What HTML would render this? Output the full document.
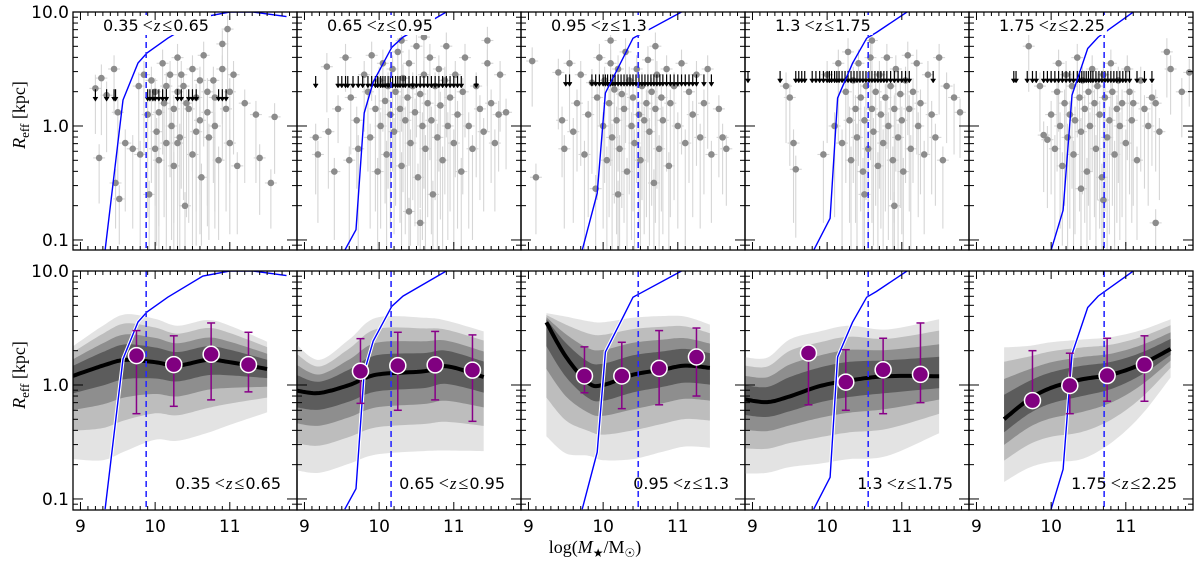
<!DOCTYPE html>
<html><head><meta charset="utf-8"><style>
html,body{margin:0;padding:0;background:#fff;}
svg{display:block;font-family:"DejaVu Sans","Liberation Sans",sans-serif;}
</style></head><body>
<svg id="chart" width="1200" height="561" viewBox="0 0 1200 561" xmlns="http://www.w3.org/2000/svg">
<defs id="defs"></defs>
<g id="layer"></g>
</svg>
<script>
// ---------- data ----------
const zLabels = ["0.35", "0.65", "0.65", "0.95", "0.95", "1.3", "1.3", "1.75", "1.75", "2.25"];
const dashedMass = [9.88, 10.16, 10.47, 10.55, 10.71];
const compX = [
 [9.33,9.57,9.77,9.89,10.17,10.64,11.0,11.31,11.76],
 [9.54,9.69,9.80,9.92,10.17,10.32,10.9],
 [9.72,9.92,10.03,10.27,10.4,11.05],
 [9.82,10.04,10.14,10.34,10.53,10.66,11.07],
 [10.0,10.16,10.28,10.49,10.63,11.1]];
const compY = [
 [-1.09,0.228,0.553,0.64,0.77,0.956,1.0,1.0,0.96],
 [-1.09,-0.91,0.114,0.386,0.69,0.78,1.0],
 [-1.09,-0.59,0.29,0.6,0.77,1.0],
 [-1.09,-0.81,0.245,0.55,0.77,0.82,1.0],
 [-1.09,-0.74,0.27,0.68,0.78,1.0]];
const medX = [
 [8.9,9.3,9.6,10.0,10.3,10.7,11.0,11.5],
 [8.9,9.2,9.6,9.96,10.6,10.9,11.4],
 [9.24,9.5,9.8,10.0,10.4,10.8,11.1,11.43],
 [8.9,9.2,9.5,9.9,10.3,10.8,11.5],
 [9.37,9.7,10.0,10.4,10.8,11.2,11.6]];
const medY = [
 [0.08,0.17,0.22,0.2,0.17,0.22,0.2,0.14],
 [-0.05,-0.07,0.0,0.09,0.12,0.165,0.07],
 [0.55,0.25,0.02,0.0,0.09,0.135,0.17,0.15],
 [-0.127,-0.15,-0.1,-0.01,0.04,0.077,0.077],
 [-0.3,-0.127,-0.025,0.048,0.09,0.18,0.316]];
const bandUp = [
 [0.26,0.35,0.4,0.38,0.35,0.35,0.32,0.24],
 [0.40,0.29,0.4,0.5,0.47,0.4,0.4],
 [0.08,0.35,0.54,0.55,0.5,0.47,0.43,0.38],
 [0.37,0.39,0.5,0.48,0.48,0.41,0.5],
 [0.63,0.47,0.4,0.35,0.33,0.3,0.26]];
const bandDn = [
 [0.73,0.83,0.8,0.68,0.66,0.64,0.55,0.38],
 [0.7,0.7,0.69,0.7,0.7,0.74,0.65],
 [1.0,0.85,0.64,0.66,0.74,0.72,0.71,0.7],
 [0.65,0.62,0.62,0.68,0.69,0.7,0.5],
 [0.55,0.6,0.65,0.7,0.6,0.45,0.25]];
const binMass = [9.75, 10.25, 10.75, 11.25];
const binR = [[1.81,1.51,1.86,1.51],[1.32,1.48,1.5,1.35],[1.2,1.2,1.4,1.76],[1.91,1.06,1.36,1.24],[0.73,0.99,1.21,1.51]];
const binLo = [[0.56,0.65,0.74,0.87],[0.69,0.6,0.74,0.48],[0.855,0.62,0.67,0.8],[0.67,0.6,0.56,0.7],[0.73,0.56,0.72,0.72]];
const binHi = [[3.0,2.7,3.5,2.9],[2.55,2.9,2.95,2.75],[2.16,2.37,3.0,3.16],[1.91,2.04,2.57,3.5],[2.0,1.9,2.57,2.7]];
const gal1 = [[9.2,.33,.4],[9.25,-.28,.4],[9.28,.42,.5],[9.35,.27,.5],[9.45,.5,.4],[9.47,-.5,.4],[9.5,.12,.6],[9.52,-.64,.4],[9.6,-.15,.6],[9.7,-.2,.7],[9.78,.35,.6],[9.8,-.25,.8],[9.85,.45,.7],[9.9,.1,.9],[9.92,-.6,.5],[9.95,.4,.9],[10.0,.3,1],[10.02,-.05,1],[10.05,-.3,.8],[10.1,.55,.8],[10.12,.2,1],[10.15,-.15,1],[10.2,.45,.9],[10.22,0,1],[10.25,-.35,.8],[10.3,.6,.8],[10.3,.3,1],[10.33,-.1,1],[10.38,.35,1],[10.4,-.7,.4],[10.45,.15,1],[10.5,.5,.9],[10.5,-.25,.8],[10.55,.25,1],[10.6,.05,1],[10.62,-.45,.6],[10.65,.62,.8],[10.7,.3,1],[10.72,-.1,.9],[10.78,.4,.9],[10.8,0,.9],[10.85,-.3,.7],[10.9,.5,.8],[10.95,.15,.9],[11.0,-.15,.8],[11.05,.45,.7],[11.1,-.35,.6],[11.2,.2,.7],[11.35,.1,.6],[11.4,-.28,.5],[11.55,-.5,.4],[11.6,.08,.5],[10.97,.85,.6],[10.9,.72,.7],[10.35,.45,1],[10.15,.35,1],[10.6,.4,1],[10.42,.2,1],[10.25,.15,1],[10.05,.12,1],[10.7,.12,1],[10.55,-.05,1],[10.3,-.15,1],[10.8,.25,1],[10.0,-.2,.9],[11.0,.3,.8]];
const gal2 = [[9.15,-.1,.5],[9.18,-.25,.6],[9.3,.52,.4],[9.32,-.05,.5],[9.4,-.4,.6],[9.45,.15,.3],[9.55,.6,.3],[9.6,-.3,.8],[9.62,.25,.5],[9.7,.05,.6],[9.72,-.2,.9],[9.8,.45,.5],[9.85,.3,.7],[9.88,-.1,.8],[9.9,.62,.4],[9.95,.15,.9],[9.98,-.4,.7],[10.0,.4,.8],[10.02,0,.9],[10.05,.55,.6],[10.08,.22,.9],[10.1,-.25,.8],[10.12,.35,.9],[10.15,.1,1],[10.18,.5,.9],[10.2,-.05,.9],[10.22,.3,1],[10.25,.65,.7],[10.28,.15,1],[10.3,-.35,.7],[10.32,.42,1],[10.35,.05,1],[10.38,.25,1],[10.4,.55,.9],[10.42,-.15,.9],[10.45,.35,1],[10.48,.12,1],[10.5,.7,.8],[10.52,-.45,.6],[10.55,.28,1],[10.58,0,1],[10.6,.45,1],[10.62,-.2,.9],[10.65,.2,1],[10.68,.6,.9],[10.7,.05,1],[10.72,-.6,.5],[10.75,.35,1],[10.78,-.1,1],[10.8,.5,.9],[10.82,.18,1],[10.85,-.3,.8],[10.88,.4,1],[10.9,.7,.8],[10.92,0,1],[10.95,.25,1],[11.0,-.15,.9],[11.02,.45,.9],[11.05,.1,1],[11.1,-.4,.7],[11.12,.3,.9],[11.15,.6,.7],[11.2,0,.9],[11.25,-.2,.8],[11.3,.35,.8],[11.35,.15,.8],[11.4,-.05,.7],[11.45,.55,.6],[11.5,.2,.7],[11.55,-.15,.6],[11.6,.1,.5],[11.62,.45,.5],[11.7,.12,.5],[10.3,.75,.8],[10.6,.78,.8],[11.45,.75,.4],[10.4,-.75,.4],[10.55,-.85,.3]];
const gal3 = [[9.05,.57,.4],[9.1,-.45,.5],[9.4,.47,.5],[9.45,.05,.5],[9.48,-.2,.7],[9.55,.55,.6],[9.6,-.05,.8],[9.65,.2,.6],[9.7,.45,.8],[9.75,-.25,.9],[9.8,.1,.9],[9.85,.38,.8],[9.9,-.55,.6],[9.92,.25,.9],[9.95,.6,.6],[10.0,0,.9],[10.02,.4,.9],[10.05,-.3,.9],[10.08,.2,1],[10.1,.55,.9],[10.12,-.1,1],[10.15,.32,1],[10.18,.05,1],[10.2,.5,.9],[10.22,-.2,1],[10.25,.28,1],[10.28,.15,1],[10.3,.65,.8],[10.32,-.4,.8],[10.35,.4,1],[10.38,0,1],[10.4,.25,1],[10.42,-.15,1],[10.45,.5,1],[10.48,.1,1],[10.5,-.3,.9],[10.52,.35,1],[10.55,.05,1],[10.58,.2,1],[10.6,.58,.9],[10.62,-.05,1],[10.65,.3,1],[10.68,-.5,.7],[10.7,.15,1],[10.72,.45,1],[10.75,-.2,1],[10.78,.25,1],[10.8,.05,1],[10.85,.5,.9],[10.88,-.35,.8],[10.9,.2,1],[10.95,.35,1],[11.0,0,.9],[11.05,.55,.8],[11.1,-.15,.9],[11.15,.3,.8],[11.2,.1,.9],[11.25,.45,.8],[11.3,-.1,.8],[11.35,.2,.8],[11.4,.5,.7],[11.45,-.25,.6],[11.55,.15,.6],[11.6,-.1,.5],[11.65,-.2,.5],[10.1,.75,.8],[10.7,.7,.7],[10.2,-.6,.5]];
const gal4 = [[9.45,.35,.5],[9.5,.25,.6],[9.55,-.15,.7],[9.58,-.38,.6],[9.95,-.25,.6],[10.1,0,.8],[10.15,.55,.7],[10.2,-.15,.9],[10.25,.3,.8],[10.28,.65,.6],[10.3,.05,.9],[10.32,-.3,.8],[10.35,.4,.9],[10.38,.15,1],[10.4,-.1,1],[10.42,.55,.9],[10.45,.25,1],[10.48,-.4,.8],[10.5,.05,1],[10.52,.35,1],[10.55,-.2,1],[10.58,.6,.9],[10.6,.15,1],[10.62,-.05,1],[10.65,.3,1],[10.68,-.35,.9],[10.7,.45,1],[10.72,.1,1],[10.75,-.15,1],[10.78,.25,1],[10.8,.6,.8],[10.82,0,1],[10.85,.35,1],[10.88,-.3,.9],[10.9,.15,1],[10.92,.5,.9],[10.95,-.1,1],[10.98,.28,1],[11.0,.05,1],[11.02,-.4,.8],[11.05,.4,.9],[11.08,.62,.7],[11.1,.15,.9],[11.12,-.2,.9],[11.15,.3,.8],[11.2,.55,.8],[11.22,0,.8],[11.25,.2,.8],[11.3,-.25,.7],[11.35,.45,.7],[11.4,.1,.7],[11.45,-.1,.6],[11.5,.6,.5],[11.55,-.3,.6],[11.6,.35,.5],[11.7,.25,.5],[11.78,.12,.4],[10.0,.45,.6],[10.5,-.6,.5],[10.9,-.7,.4],[10.6,.75,.7]];
const gal5 = [[9.85,.35,.4],[9.9,-.08,.5],[9.95,-.12,.6],[10.0,.1,.7],[10.05,-.2,.8],[10.08,.3,.7],[10.1,.55,.6],[10.12,0,.9],[10.15,-.35,.7],[10.18,.2,.9],[10.2,.45,.8],[10.22,-.1,1],[10.25,.1,1],[10.28,.35,.9],[10.3,-.25,.9],[10.32,.05,1],[10.35,.6,.7],[10.38,.25,1],[10.4,-.05,1],[10.42,.4,1],[10.45,.15,1],[10.48,-.4,.8],[10.5,.3,1],[10.52,0,1],[10.55,.5,.9],[10.58,.2,1],[10.6,-.2,1],[10.62,.35,1],[10.65,.1,1],[10.68,-.45,.7],[10.7,.45,.9],[10.72,.25,1],[10.75,-.1,1],[10.78,.05,1],[10.8,.55,.8],[10.82,.3,1],[10.85,-.25,.9],[10.88,.15,1],[10.9,.4,.9],[10.92,0,1],[10.95,.2,1],[11.0,-.15,.9],[11.02,.5,.8],[11.05,.3,.9],[11.08,.05,.9],[11.1,.2,.9],[11.15,-.3,.7],[11.2,.4,.8],[11.25,.15,.7],[11.3,0,.7],[11.35,.25,.6],[11.4,.2,.6],[11.45,-.05,.6],[11.55,.65,.4],[11.6,.5,.4],[11.75,.3,.4],[11.85,.47,.3],[10.4,-.55,.5],[10.7,-.65,.4],[11.4,-.85,.3],[9.7,.7,.4]];
const limitLogR = [0.27, 0.386, 0.4, 0.43, 0.43];
const lim1 = [9.2,9.35,9.45,9.47,9.9,9.93,9.97,10.0,10.05,10.1,10.15,10.3,10.35,10.45,10.5,10.55,10.85,10.9,10.95];
const lim2 = [9.15,9.45,9.5,9.55,9.58,9.65,9.72,9.78,9.85,9.9,9.95,9.98,10.02,10.05,10.08,10.12,10.15,10.18,10.22,10.25,10.28,10.32,10.35,10.4,10.45,10.5,10.55,10.6,10.65,10.7,10.75,10.8,10.85,10.9,10.95,11.0,11.05,11.1,11.3];
const lim3 = [9.5,9.55,9.85,9.9,9.95,10.0,10.03,10.06,10.1,10.13,10.16,10.2,10.24,10.28,10.32,10.36,10.4,10.44,10.48,10.52,10.56,10.6,10.64,10.68,10.72,10.76,10.8,10.85,10.9,10.95,11.0,11.05,11.1,11.15,11.2,11.25,11.35,11.45];
const lim4 = [8.94,9.37,9.58,9.62,9.66,9.7,9.8,9.85,9.9,9.95,10.0,10.03,10.06,10.1,10.13,10.16,10.2,10.24,10.28,10.32,10.36,10.4,10.44,10.48,10.52,10.56,10.6,10.64,10.68,10.72,10.76,10.8,10.85,10.9,10.95,11.0,11.05,11.1,11.42];
const lim5 = [9.5,9.53,9.68,9.75,9.8,9.9,9.95,10.0,10.05,10.1,10.15,10.2,10.25,10.3,10.35,10.38,10.41,10.44,10.47,10.5,10.53,10.56,10.6,10.64,10.68,10.72,10.76,10.8,10.84,10.88,10.92,10.96,11.0,11.05,11.15,11.25,11.35];
const galaxies = [gal1, gal2, gal3, gal4, gal5];
const limits = [lim1, lim2, lim3, lim4, lim5];
const xTickLabels = ["9", "10", "11"];
const yTickLabels = ["0.1", "1.0", "10.0"];

// ---------- geometry ----------
const NS = "http://www.w3.org/2000/svg";
const PL = [73, 297, 521, 745, 969], PW = 224;
const RT = [12, 271], RB = [250, 510];
const XMIN = 8.9, XMAX = 11.9, LTOP = 1, LBOT = -1.088;
const PPD = (RB[0] - RT[0]) / (LTOP - LBOT);
function xs(v, i) { return PL[i] + (v - XMIN) / (XMAX - XMIN) * PW; }
function ys(l, r) { return RT[r] + (LTOP - l) * PPD; }
const layer = document.getElementById('layer');
const defs = document.getElementById('defs');
function mk(tag, attrs, parent) {
  const e = document.createElementNS(NS, tag);
  for (const k in attrs) e.setAttribute(k, attrs[k]);
  (parent || layer).appendChild(e);
  return e;
}
function cr(p0, p1, p2, p3, t) {
  const t2 = t * t, t3 = t2 * t;
  return 0.5 * ((2 * p1) + (-p0 + p2) * t + (2 * p0 - 5 * p1 + 4 * p2 - p3) * t2 + (-p0 + 3 * p1 - 3 * p2 + p3) * t3);
}
function smooth(X, Y) {
  const out = [];
  const n = X.length;
  for (let i = 0; i < n - 1; i++) {
    const i0 = Math.max(0, i - 1), i3 = Math.min(n - 1, i + 2);
    for (let s = 0; s < 12; s++) {
      const t = s / 12;
      out.push([cr(X[i0], X[i], X[i + 1], X[i3], t), cr(Y[i0], Y[i], Y[i + 1], Y[i3], t)]);
    }
  }
  out.push([X[n - 1], Y[n - 1]]);
  return out;
}

for (let r = 0; r < 2; r++) {
  for (let i = 0; i < 5; i++) {
    const cp = mk('clipPath', { id: 'cp' + r + i }, defs);
    mk('rect', { x: PL[i], y: RT[r], width: PW, height: RB[r] - RT[r] }, cp);
  }
}

for (let r = 0; r < 2; r++) {
  for (let i = 0; i < 5; i++) {
    const g = mk('g', { 'clip-path': 'url(#cp' + r + i + ')' });
    
    
    if (r === 0) {
      const gal = galaxies[i];
      const eg = mk('g', { stroke: '#d6d6d6', 'stroke-width': 1.1 }, g);
      
      
      gal.forEach(p => {
        mk('line', { x1: xs(p[0], i), x2: xs(p[0], i), y1: ys(p[1] + 0.12, 0), y2: ys(p[1] - p[2], 0) }, eg);
        mk('line', { x1: xs(p[0] - 0.08, i), x2: xs(p[0] + 0.08, i), y1: ys(p[1], 0), y2: ys(p[1], 0) }, eg);
      });
      const pg = mk('g', { fill: '#8c8c8c' }, g);
      
      
      gal.forEach(p => {
        const c = mk('circle', { cx: xs(p[0], i), cy: ys(p[1], 0), r: 3.3 }, pg);
        
        
      });
      const ag = mk('g', { stroke: '#000', fill: '#000', 'stroke-width': 1.2 }, g);
      
      
      limits[i].forEach(v => {
        const x = xs(v, i), y = ys(limitLogR[i], 0);
        mk('line', { x1: x, x2: x, y1: y - 6, y2: y + 4 }, ag);
        mk('path', { d: `M${x - 2.5},${y + 2} L${x + 2.5},${y + 2} L${x},${y + 6} Z`, 'stroke-width': 0.5 }, ag);
      });
    } else {
      const med = smooth(medX[i], medY[i]);
      const up = smooth(medX[i], bandUp[i]);
      const dn = smooth(medX[i], bandDn[i]);
      const fu = [1, 0.8, 0.56, 0.34], fd = [1, 0.66, 0.41, 0.21];
      const cols = ['#e3e3e3', '#bdbdbd', '#8e8e8e', '#5c5c5c'];
      for (let k = 0; k < 4; k++) {
        let d = '';
        med.forEach((p, j) => { d += (j ? 'L' : 'M') + xs(p[0], i).toFixed(1) + ',' + ys(p[1] + up[j][1] * fu[k], 1).toFixed(1); });
        for (let j = med.length - 1; j >= 0; j--) d += 'L' + xs(med[j][0], i).toFixed(1) + ',' + ys(med[j][1] - dn[j][1] * fd[k], 1).toFixed(1);
        const b = mk('path', { d: d + 'Z', fill: cols[k] }, g);
        
        
      }
      let dm = '';
      med.forEach((p, j) => { dm += (j ? 'L' : 'M') + xs(p[0], i).toFixed(1) + ',' + ys(p[1], 1).toFixed(1); });
      const ml = mk('path', { d: dm, fill: 'none', stroke: '#000', 'stroke-width': 4 }, g);
      
      
    }
    let dc = '';
    compX[i].forEach((v, j) => { dc += (j ? 'L' : 'M') + xs(v, i).toFixed(1) + ',' + ys(compY[i][j], r).toFixed(1); });
    if (r === 1) mk('path', { d: dc, fill: 'none', stroke: '#fff', 'stroke-width': 3.5 }, g);
    const cl = mk('path', { d: dc, fill: 'none', stroke: '#0000ff', 'stroke-width': 1.4 }, g);
    
    
    const dl = mk('line', { x1: xs(dashedMass[i], i), x2: xs(dashedMass[i], i), y1: RT[r], y2: RB[r], stroke: '#2a2aff', 'stroke-width': 1.6, 'stroke-dasharray': '6,4' }, g);
    
    
    if (r === 1) {
      binMass.forEach((m, j) => {
        const x = xs(m, i);
        const eb = mk('g', { stroke: '#880088', 'stroke-width': 1.5 }, g);
        
        
        const yh = ys(Math.log10(binHi[i][j]), 1), yl = ys(Math.log10(binLo[i][j]), 1);
        mk('line', { x1: x, x2: x, y1: yh, y2: yl }, eb);
        mk('line', { x1: x - 4, x2: x + 4, y1: yh, y2: yh }, eb);
        mk('line', { x1: x - 4, x2: x + 4, y1: yl, y2: yl }, eb);
        const c = mk('circle', { cx: x, cy: ys(Math.log10(binR[i][j]), 1), r: 8, fill: '#800080', stroke: '#fff', 'stroke-width': 1.5 }, g);
        
        
      });
    }
    const lab = (r === 0)
      ? mk('text', { x: PL[i] + 30, y: 31, 'font-size': 16, fill: '#000' })
      : mk('text', { x: PL[i] + PW - 16, y: 489, 'font-size': 16, fill: '#000', 'text-anchor': 'end' });
    
    
    lab.innerHTML = zLabels[2 * i] + '<tspan font-family="Liberation Serif,serif" font-size="18" dx="4">&lt;</tspan><tspan font-family="Liberation Serif,serif" font-style="italic" font-size="17" dx="1">z</tspan><tspan font-family="Liberation Serif,serif" font-size="18" dx="2">≤</tspan><tspan dx="1">' + zLabels[2 * i + 1] + '</tspan>';
    if (r === 0) {
      const bb = lab.getBBox();
      const wr = mk('rect', { x: bb.x - 2, y: bb.y, width: bb.width + 4, height: bb.height, fill: '#fff' });
      layer.insertBefore(wr, lab);
    }
    const fr = mk('rect', { x: PL[i], y: RT[r], width: PW, height: RB[r] - RT[r], fill: 'none', stroke: '#000', 'stroke-width': 1.3 });
    
    
    const tg = mk('g', { stroke: '#000', 'stroke-width': 1 });
    
    
    for (let t = 89; t <= 119; t++) {
      const v = t / 10, x = xs(v, i), L = (t % 10 === 0) ? 8 : 4;
      mk('line', { x1: x, x2: x, y1: RB[r], y2: RB[r] - L }, tg);
      mk('line', { x1: x, x2: x, y1: RT[r], y2: RT[r] + L }, tg);
    }
    for (let d = -2; d <= 0; d++) {
      for (let m = 1; m <= 9; m++) {
        const l = d + Math.log10(m);
        if (l < LBOT || l > LTOP) continue;
        const y = ys(l, r), L = m === 1 ? 10 : 5;
        mk('line', { x1: PL[i], x2: PL[i] + L, y1: y, y2: y }, tg);
        mk('line', { x1: PL[i] + PW, x2: PL[i] + PW - L, y1: y, y2: y }, tg);
      }
    }
    if (r === 1) {
      [9, 10, 11].forEach((v, j) => {
        const t = mk('text', { x: xs(v, i), y: 532, 'font-size': 17, 'text-anchor': 'middle' });
        t.textContent = xTickLabels[j];
        
        
      });
    }
    if (i === 0) {
      [-1, 0, 1].forEach((l, j) => {
        const t = mk('text', { x: 69, y: ys(l, r) + 6, 'font-size': 17, 'text-anchor': 'end' });
        t.textContent = yTickLabels[j];
        
        
      });
      const yl = mk('text', { transform: `translate(25,${r === 0 ? 115 : 375}) rotate(-90)`, 'font-size': 18, 'text-anchor': 'middle', 'font-family': 'Liberation Serif,serif' });
      yl.innerHTML = '<tspan font-style="italic">R</tspan><tspan font-size="13" dy="4">eff</tspan><tspan dy="-4"> [kpc]</tspan>';
      
      
    }
  }
}
const xl = mk('text', { x: 595, y: 553, 'font-size': 18, 'text-anchor': 'middle', 'font-family': 'Liberation Serif,DejaVu Serif,serif' });
xl.innerHTML = 'log(<tspan font-style="italic">M</tspan><tspan font-size="12" dy="4">★</tspan><tspan dy="-4">/M</tspan><tspan font-size="12" dy="4">☉</tspan><tspan dy="-4">)</tspan>';


</script>
</body></html>
